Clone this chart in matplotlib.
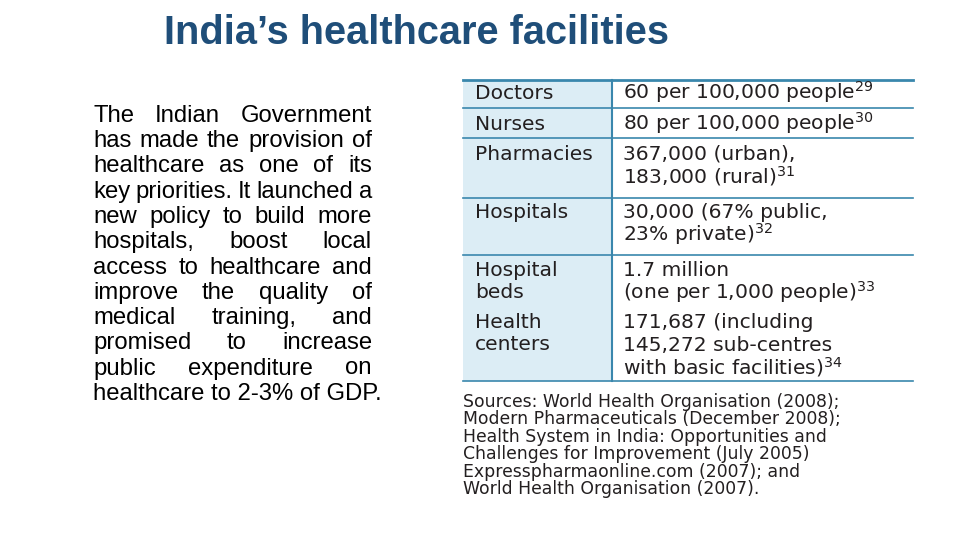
import matplotlib
matplotlib.use('Agg')
import matplotlib.pyplot as plt
from matplotlib import font_manager as fm
from matplotlib.patches import Rectangle

# slide content
title = "India\u2019s healthcare facilities"

body_lines = [
    "The Indian Government",
    "has made the provision of",
    "healthcare as one of its",
    "key priorities. It launched a",
    "new policy to build more",
    "hospitals, boost local",
    "access to healthcare and",
    "improve the quality of",
    "medical training, and",
    "promised to increase",
    "public expenditure on",
    "healthcare to 2-3% of GDP.",
]

row_labels = [["Doctors"], ["Nurses"], ["Pharmacies"], ["Hospitals"],
              ["Hospital", "beds"], ["Health", "centers"]]
row_values = [
    ["60 per 100,000 people$^{29}$"],
    ["80 per 100,000 people$^{30}$"],
    ["367,000 (urban),", "183,000 (rural)$^{31}$"],
    ["30,000 (67% public,", "23% private)$^{32}$"],
    ["1.7 million", "(one per 1,000 people)$^{33}$"],
    ["171,687 (including", "145,272 sub-centres", "with basic facilities)$^{34}$"],
]

sources = [
    "Sources: World Health Organisation (2008);",
    "Modern Pharmaceuticals (December 2008);",
    "Health System in India: Opportunities and",
    "Challenges for Improvement (July 2005)",
    "Expresspharmaonline.com (2007); and",
    "World Health Organisation (2007).",
]

# layout (pixels, y down)
row_first_y = [93, 124, 154, 212, 270, 322]
row_lines = [108, 138, 198, 255]
table_top, table_bot = 80, 381
tx0, tmid, tx1 = 463, 612, 913
line_col = '#3a87ad'
text_col = '#231f20'


def find_font(name):
    for f in fm.findSystemFonts():
        if f.endswith(name):
            return fm.FontProperties(fname=f)
    return fm.FontProperties(family='DejaVu Sans')


arial = find_font('LiberationSans-Regular.ttf')
arial_bold = find_font('LiberationSans-Bold.ttf')

fig = plt.figure(figsize=(9.6, 5.4), dpi=100)
ax = fig.add_axes([0, 0, 1, 1])
ax.set_xlim(0, 960)
ax.set_ylim(540, 0)
ax.axis('off')
r = fig.canvas.get_renderer()

ax.text(416.5, 44, title, ha='center', va='baseline', fontproperties=arial_bold,
        fontsize=28.6, color='#1f4e79')


def justify(words, x0, x1, y, **kw):
    items = [ax.text(0, y, w, va='baseline', **kw) for w in words]
    widths = [t.get_window_extent(r).width for t in items]
    gap = (x1 - x0 - sum(widths)) / max(len(words) - 1, 1)
    x = x0
    for t, w in zip(items, widths):
        t.set_x(x)
        x += w + gap


body_kw = dict(fontproperties=arial, fontsize=17.2, color='black')
for i, line in enumerate(body_lines[:-1]):
    justify(line.split(), 93, 372, 122 + 25.25 * i, **body_kw)
# last line is not justified
ax.text(93, 122 + 25.25 * (len(body_lines) - 1), body_lines[-1],
        va='baseline', **body_kw)

# table
ax.add_patch(Rectangle((tx0, table_top), tmid - tx0, table_bot - table_top,
                       facecolor='#dcedf5', edgecolor='none'))
ax.plot([tx0, tx1], [table_top, table_top], color=line_col, lw=2)
for y in row_lines + [table_bot]:
    ax.plot([tx0, tx1], [y, y], color=line_col, lw=1.2)
ax.plot([tmid, tmid], [table_top, table_bot], color=line_col, lw=1.5)

for y0, labels, values in zip(row_first_y, row_labels, row_values):
    for j, s in enumerate(labels):
        ax.text(475, y0 + 6 + 22.5 * j, s, va='baseline', fontsize=14.6,
                color=text_col, family='DejaVu Sans')
    for j, s in enumerate(values):
        ax.text(623, y0 + 6 + 23 * j, s, va='baseline', fontsize=14.6,
                color=text_col, family='DejaVu Sans')

for i, s in enumerate(sources):
    ax.text(463, 407 + 17.4 * i, s, va='baseline', fontsize=12.4,
            color=text_col, family='DejaVu Sans')

fig.savefig('out.png', dpi=100)
